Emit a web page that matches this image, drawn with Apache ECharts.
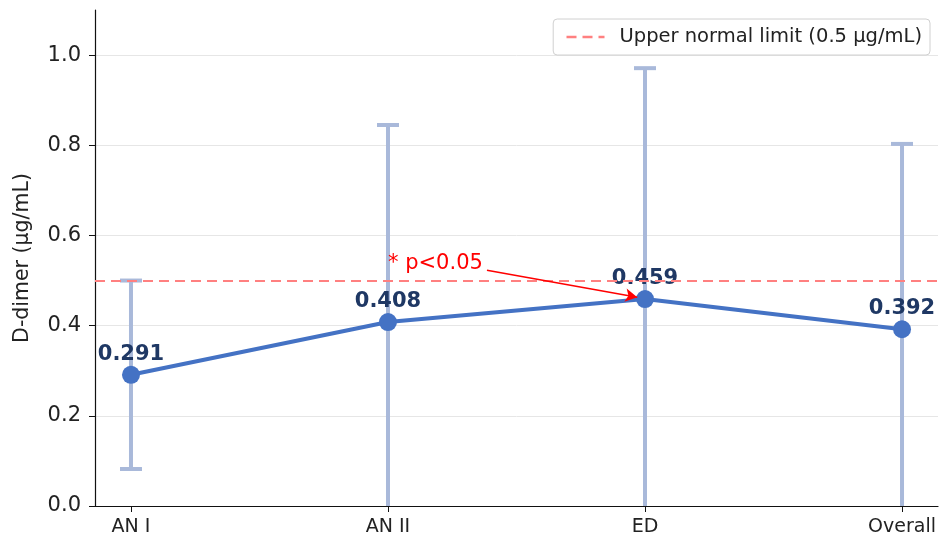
<!DOCTYPE html>
<html>
<head>
<meta charset="utf-8">
<script src="https://cdn.jsdelivr.net/npm/echarts@6/dist/echarts.min.js"></script>
<style>
  html, body { margin: 0; padding: 0; background: #fff; }
  #chart { width: 940px; height: 544px; }
</style>
</head>
<body>
<div id="chart"></div>
<script>
// Groups and their mean D-dimer with one standard deviation
const categories = ['AN I', 'AN II', 'ED', 'Overall'];
const means = [0.291, 0.408, 0.459, 0.392];
const sds = [0.209, 0.437, 0.512, 0.411];
const yTicks = [0.0, 0.2, 0.4, 0.6, 0.8, 1.0];
const upperLimit = 0.5;
const limitLabel = 'Upper normal limit (0.5 µg/mL)';
// significance note pointing at ED
const noteText = '* p<0.05';
const noteFrom = [1.385, 0.523];
const noteTo = [1.97, 0.463];
const noteTextAt = [1.0, 0.537];

const xIdx = categories.map((_, i) => i);
const FONT = 'DejaVu Sans';
const LIMIT_DASH = [10, 6];

const chart = echarts.init(document.getElementById('chart'), null, { renderer: 'canvas' });

const errData = xIdx.map(i => [i, means[i] - sds[i], means[i] + sds[i]]);

chart.setOption({
  animation: false,
  textStyle: { fontFamily: FONT },
  grid: { left: 95, right: 2, top: 10, bottom: 38 },
  legend: {
    data: [{
      name: limitLabel,
      itemStyle: { opacity: 0 },
      lineStyle: { color: '#ff8080', width: 2.6, type: LIMIT_DASH, opacity: 1 }
    }],
    right: 10,
    top: 19,
    padding: [8, 8, 8, 12],
    itemWidth: 38,
    itemHeight: 12,
    itemGap: 10,
    borderColor: '#d0d0d0',
    borderWidth: 1,
    borderRadius: 4,
    backgroundColor: '#fff',
    textStyle: { fontFamily: FONT, fontSize: 19.5, color: '#222', padding: [0, 0, 0, 10] }
  },
  xAxis: {
    type: 'value',
    min: -0.14,
    max: 3.14,
    splitLine: { show: false },
    axisLine: { onZero: false, lineStyle: { color: '#111', width: 1.2 } },
    axisTick: { show: true, length: 6, customValues: xIdx, lineStyle: { color: '#111' } },
    axisLabel: {
      customValues: xIdx,
      formatter: v => categories[Math.round(v)],
      fontFamily: FONT, fontSize: 19, color: '#222', margin: 12
    }
  },
  yAxis: {
    type: 'value',
    min: 0,
    max: 1.1,
    name: 'D-dimer (µg/mL)',
    nameLocation: 'middle',
    nameGap: 62,
    nameTextStyle: { fontFamily: FONT, fontSize: 20.5, color: '#222' },
    axisLine: { show: true, onZero: false, lineStyle: { color: '#111', width: 1.2 } },
    axisTick: { show: true, length: 6, customValues: yTicks, lineStyle: { color: '#111' } },
    axisLabel: {
      customValues: yTicks,
      formatter: v => v.toFixed(1),
      fontFamily: FONT, fontSize: 21, color: '#222', margin: 14
    },
    splitLine: { show: true, lineStyle: { color: '#e6e6e6', width: 1 } }
  },
  series: [
    {
      name: limitLabel,
      type: 'line',
      data: [],
      symbol: 'none',
      color: '#ff8080',
      lineStyle: { color: '#ff8080', type: LIMIT_DASH, width: 2 },
      markLine: {
        silent: true,
        symbol: ['none', 'none'],
        label: { show: false },
        lineStyle: { color: '#ff8080', type: LIMIT_DASH, width: 2 },
        data: [{ yAxis: upperLimit }]
      },
      z: 1
    },
    {
      name: 'sd',
      type: 'custom',
      clip: true,
      data: errData,
      renderItem: (params, api) => {
        const x = api.value(0);
        const lo = api.coord([x, api.value(1)]);
        const hi = api.coord([x, api.value(2)]);
        const half = 11;
        const style = { stroke: '#a9b9da', lineWidth: 4, fill: null };
        return {
          type: 'group',
          children: [
            { type: 'line', shape: { x1: lo[0], y1: lo[1], x2: hi[0], y2: hi[1] }, style },
            { type: 'line', shape: { x1: hi[0] - half, y1: hi[1], x2: hi[0] + half, y2: hi[1] }, style },
            { type: 'line', shape: { x1: lo[0] - half, y1: lo[1], x2: lo[0] + half, y2: lo[1] }, style }
          ]
        };
      },
      z: 2
    },
    {
      name: 'mean',
      type: 'line',
      data: xIdx.map(i => [i, means[i]]),
      symbol: 'circle',
      symbolSize: 18,
      color: '#4472c4',
      lineStyle: { color: '#4472c4', width: 4 },
      itemStyle: { color: '#4472c4' },
      label: {
        show: true,
        position: 'top',
        distance: 1,
        formatter: p => p.value[1].toFixed(3),
        fontFamily: FONT, fontSize: 21, fontWeight: 'bold', color: '#1f3864'
      },
      markLine: {
        silent: true,
        symbol: ['none', 'arrow'],
        symbolSize: [10, 12],
        label: { show: false },
        lineStyle: { color: '#ff0000', type: 'solid', width: 1.6 },
        data: [[{ coord: noteFrom }, { coord: noteTo }]]
      },
      markPoint: {
        silent: true,
        symbol: 'circle',
        symbolSize: 0,
        label: {
          show: true,
          position: 'right',
          distance: 0,
          formatter: noteText,
          fontFamily: FONT, fontSize: 21, color: '#ff0000'
        },
        data: [{ coord: noteTextAt }]
      },
      z: 3
    }
  ]
});
</script>
</body>
</html>
